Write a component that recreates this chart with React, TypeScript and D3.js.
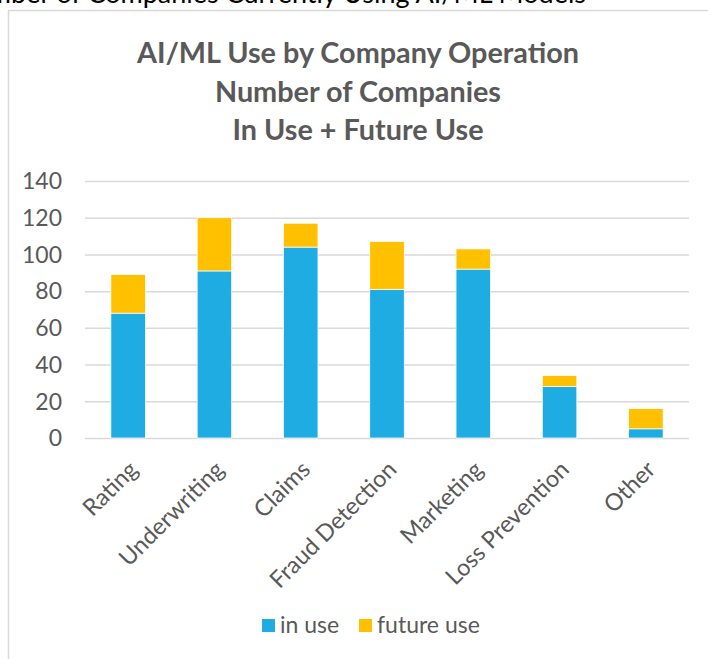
import React, { useEffect, useRef } from 'react';
import * as d3 from "d3";

// chart data
const categories = ["Rating", "Underwriting", "Claims", "Fraud Detection", "Marketing", "Loss Prevention", "Other"];
const inUse = [68, 91, 104, 81, 92, 28, 5];
const futureUse = [21, 29, 13, 26, 11, 6, 11];
const yTicks = [0, 20, 40, 60, 80, 100, 120, 140];
const seriesNames = ["in use", "future use"];
const seriesColors = ["#1EACE3", "#FFC000"];
const titleLines = ["AI/ML Use by Company Operation", "Number of Companies", "In Use + Future Use"];
const pageHeading = "Number of Companies Currently Using AI/ML Models";

const width = 708;
const height = 659;
const margin = { top: 181, right: 19, bottom: 221, left: 85 };
const font = "Lato, 'Open Sans', sans-serif";

const App = () => {
    const svgRef = useRef<SVGSVGElement | null>(null);

    useEffect(() => {
        if (!svgRef.current) return;
        const svg = d3.select(svgRef.current);
        svg.selectAll("*").remove();

        // heading of the page, cut off by the screenshot (as in the source)
        svg.append("text")
            .attr("x", 586)
            .attr("y", 3)
            .attr("text-anchor", "end")
            .attr("font-family", font)
            .attr("font-size", 27)
            .attr("fill", "#000")
            .text(pageHeading);

        // chart frame
        svg.append("rect")
            .attr("x", 8.5)
            .attr("y", 10.5)
            .attr("width", 720)
            .attr("height", 700)
            .attr("fill", "#fff")
            .attr("stroke", "#d9d9d9")
            .attr("stroke-width", 1.5);

        svg.append("g")
            .selectAll("text")
            .data(titleLines)
            .join("text")
            .attr("x", 358)
            .attr("y", (_d, i) => 63 + i * 38.5)
            .attr("text-anchor", "middle")
            .attr("font-family", font)
            .attr("font-weight", "bold")
            .attr("font-size", 28.8)
            .attr("fill", "#595959")
            .text(d => d);

        const xScale = d3.scaleBand<string>()
            .domain(categories)
            .range([margin.left, width - margin.right])
            .paddingInner(0.6)
            .paddingOuter(0.3);

        const yScale = d3.scaleLinear()
            .domain([0, 140])
            .range([height - margin.bottom, margin.top]);

        const yAxis = d3.axisLeft(yScale).tickValues(yTicks).tickSize(-(width - margin.right - margin.left)).tickPadding(23);

        const yG = svg.append("g")
            .attr("transform", `translate(${margin.left}, 0)`)
            .call(yAxis);
        yG.select(".domain").remove();
        yG.selectAll(".tick line").attr("stroke", "#d9d9d9").attr("stroke-width", 1.5);
        yG.selectAll(".tick text")
            .attr("font-family", font)
            .attr("font-size", 23)
            .attr("fill", "#595959")
            .attr("dy", "0.34em");

        const stackData = categories.map((c, i) => ({ category: c, "in use": inUse[i], "future use": futureUse[i] }));
        const stack = d3.stack<any>().keys(seriesNames)(stackData);

        svg.append("g")
            .selectAll("g")
            .data(stack)
            .join("g")
            .attr("fill", (_d, i) => seriesColors[i])
            .selectAll("rect")
            .data(d => d)
            .join("rect")
            .attr("x", d => xScale(d.data.category) as number)
            .attr("width", xScale.bandwidth())
            .attr("y", d => yScale(d[1]))
            .attr("height", d => yScale(d[0]) - yScale(d[1]))
            .attr("stroke", "#fff")
            .attr("stroke-width", 0.75);

        // rotated category labels
        svg.append("g")
            .selectAll("text")
            .data(categories)
            .join("text")
            .attr("transform", d => `translate(${(xScale(d) as number) + xScale.bandwidth() / 2 + 11}, 471) rotate(-45)`)
            .attr("text-anchor", "end")
            .attr("font-family", font)
            .attr("font-size", 23.5)
            .attr("fill", "#595959")
            .text(d => d);

        // legend
        const legendX = [262, 359];
        const legend = svg.append("g")
            .selectAll("g")
            .data(seriesNames)
            .join("g")
            .attr("transform", (_d, i) => `translate(${legendX[i]}, 619)`);
        legend.append("rect")
            .attr("width", 13)
            .attr("height", 13)
            .attr("fill", (_d, i) => seriesColors[i]);
        legend.append("text")
            .attr("x", 18)
            .attr("y", 14)
            .attr("font-family", font)
            .attr("font-size", 23)
            .attr("fill", "#595959")
            .text(d => d);
    }, []);

    return (
        <svg ref={svgRef} width={width} height={height} style={{ position: "absolute", left: 0, top: 0 }}></svg>
    );
};

export default App;
